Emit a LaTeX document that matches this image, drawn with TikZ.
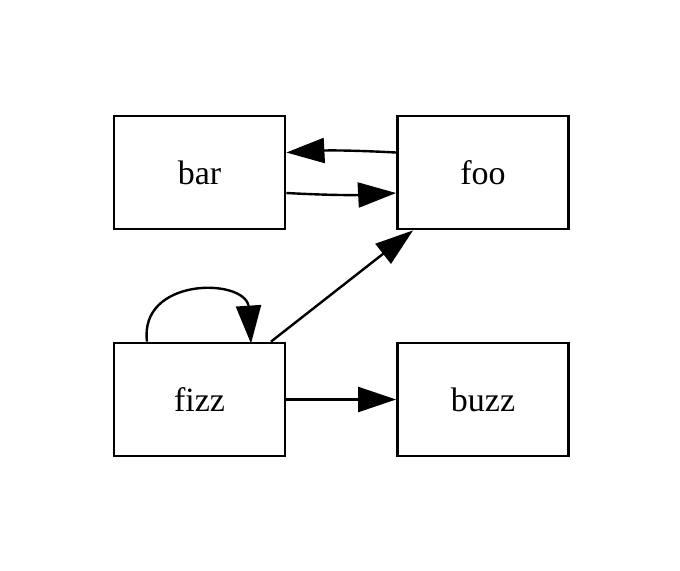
\documentclass[tikz,border=0pt]{standalone}
\usepackage{fontspec}
\setmainfont{Liberation Serif}
\usetikzlibrary{arrows.meta}
\begin{document}
\begin{tikzpicture}[x=0.5pt, y=-0.5pt,
    box/.style={draw, line width=1.4pt, rectangle, minimum width=85.5pt, minimum height=56.5pt, font=\fontsize{17}{20}\selectfont},
    edge/.style={line width=1.2pt, -{Triangle[length=19pt, width=12.5pt]}}]

                \useasboundingbox (0,0) rectangle (680,570);

                \node[box] (bar) at (199.5,172.5) {bar};
                \node[box] (foo) at (483,172.5) {foo};
                \node[box] (fizz) at (199.5,399.5) {fizz};
                \node[box] (buzz) at (483,399.5) {buzz};

                \draw[edge] ([yshift=10pt]foo.west) to[bend right=3] ([yshift=10pt]bar.east);
                \draw[edge] ([yshift=-10.25pt]bar.east) to[bend right=3] ([yshift=-10.25pt]foo.west);

                \draw[edge] ([xshift=-26.25pt]fizz.north) .. controls +(-4pt,32pt) and +(-3pt,14pt) .. ([xshift=24.5pt, yshift=18pt]fizz.north) -- ([xshift=25.75pt, yshift=-1pt]fizz.north);
                \draw[edge] ([xshift=35.75pt]fizz.north) -- ([xshift=-35pt]foo.south);
                \draw[edge] (fizz.east) -- (buzz.west);

            \end{tikzpicture}
\end{document}
